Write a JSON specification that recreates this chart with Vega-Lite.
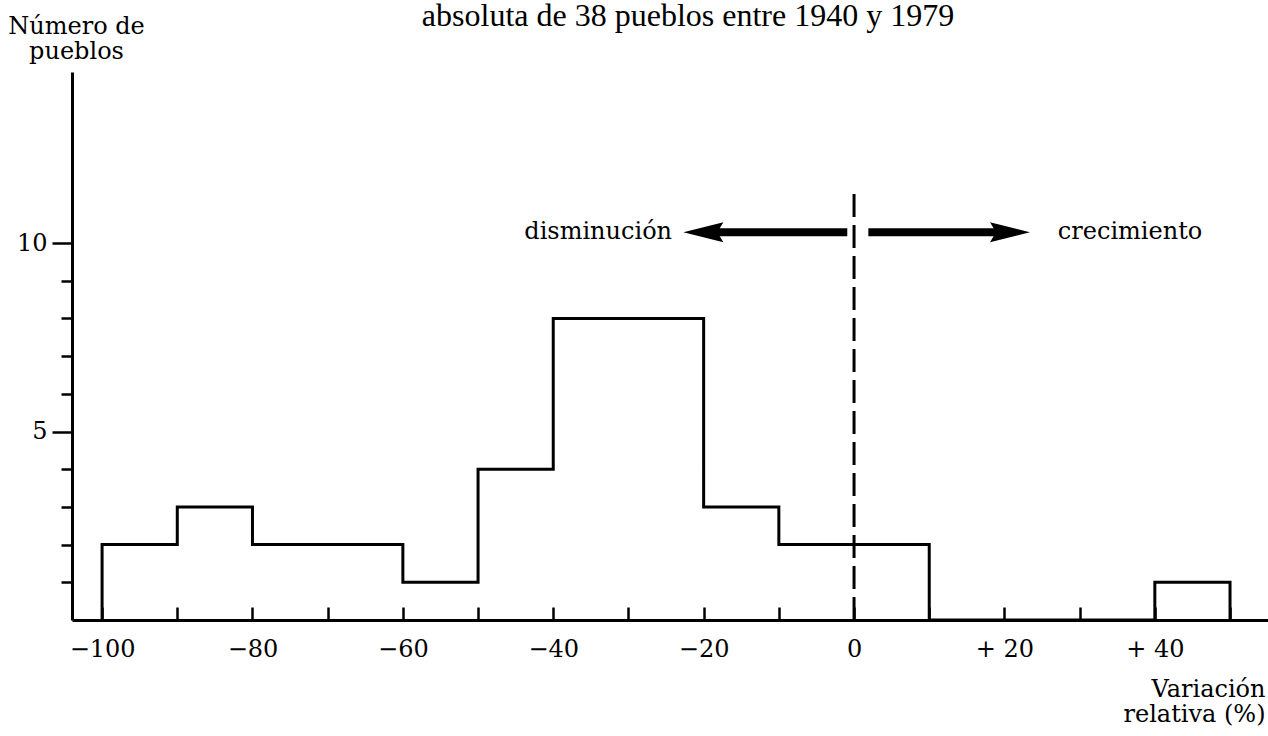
{
  "$schema": "https://vega.github.io/schema/vega-lite/v6.json",
  "width": 1196,
  "height": 548,
  "autosize": {"type": "none"},
  "padding": {"left": 72, "top": 72, "right": 0, "bottom": 116},
  "background": "white",
  "title": {
    "text": "absoluta de 38 pueblos entre 1940 y 1979",
    "font": "Liberation Serif",
    "fontSize": 32,
    "fontWeight": "normal",
    "color": "black",
    "frame": "group",
    "anchor": "middle",
    "baseline": "alphabetic",
    "offset": -44,
    "dx": 18
  },
  "config": {
    "view": {"stroke": null},
    "axis": {
      "grid": false,
      "domainColor": "black",
      "domainWidth": 3,
      "tickColor": "black",
      "tickWidth": 2.5,
      "labelColor": "black",
      "labelFont": "DejaVu Serif",
      "labelFontSize": 24,
      "titleColor": "black",
      "titleFont": "DejaVu Serif",
      "titleFontSize": 24,
      "titleFontWeight": "normal"
    }
  },
  "layer": [
    {
      "data": {
        "values": [
          {"i": 0, "x": -100, "y": 0},
          {"i": 1, "x": -100, "y": 2},
          {"i": 2, "x": -90, "y": 3},
          {"i": 3, "x": -80, "y": 2},
          {"i": 4, "x": -70, "y": 2},
          {"i": 5, "x": -60, "y": 1},
          {"i": 6, "x": -50, "y": 4},
          {"i": 7, "x": -40, "y": 8},
          {"i": 8, "x": -30, "y": 8},
          {"i": 9, "x": -20, "y": 3},
          {"i": 10, "x": -10, "y": 2},
          {"i": 11, "x": 0, "y": 2},
          {"i": 12, "x": 10, "y": 0},
          {"i": 13, "x": 20, "y": 0},
          {"i": 14, "x": 30, "y": 0},
          {"i": 15, "x": 40, "y": 1},
          {"i": 16, "x": 50, "y": 0}
        ]
      },
      "mark": {"type": "line", "interpolate": "step-after", "color": "black", "strokeWidth": 3, "strokeJoin": "miter"},
      "encoding": {
        "x": {
          "field": "x",
          "type": "quantitative",
          "scale": {"domain": [-104, 55.05], "nice": false, "zero": false},
          "axis": {
            "values": [-100, -90, -80, -70, -60, -50, -40, -30, -20, -10, 0, 10, 20, 30, 40, 50],
            "tickSize": -13,
            "labelPadding": 30,
            "labelBaseline": "top",
            "labelFlush": false,
            "labelOverlap": false,
            "labelExpr": "datum.value === 0 ? '0' : (datum.value % 20 !== 0 ? '' : (datum.value > 0 ? '+ ' + datum.value : '\u2212' + (-datum.value)))",
            "title": ["Variación", "relativa (%)"],
            "titleAlign": "right",
            "titleAnchor": "end",
            "titleBaseline": "top",
            "titleLineHeight": 25,
            "titleX": 1193,
            "titleY": 57
          }
        },
        "y": {
          "field": "y",
          "type": "quantitative",
          "scale": {"domain": [0, 14.54], "nice": false},
          "axis": {
            "values": [1, 2, 3, 4, 5, 6, 7, 8, 9, 10],
            "tickSize": {"condition": {"test": "datum.value % 5 === 0", "value": 20}, "value": 11},
            "labelPadding": 5,
            "labelFlush": false,
            "labelOverlap": false,
            "labelExpr": "datum.value % 5 === 0 ? datum.label : ''",
            "title": ["Número de", "pueblos"],
            "titleAngle": 0,
            "titleAlign": "center",
            "titleBaseline": "alphabetic",
            "titleLineHeight": 25,
            "titleX": 4,
            "titleY": -39
          }
        },
        "order": {"field": "i"}
      }
    },
    {
      "data": {"values": [{"x": 0, "y": 0, "y2": 11.4}]},
      "mark": {"type": "rule", "color": "black", "strokeWidth": 3, "strokeDash": [23, 8]},
      "encoding": {
        "x": {"field": "x", "type": "quantitative"},
        "y": {"field": "y", "type": "quantitative"},
        "y2": {"field": "y2"}
      }
    },
    {
      "data": {"values": [{"x": -0.9, "x2": -20.0, "y": 10.29}, {"x": 1.9, "x2": 20.7, "y": 10.29}]},
      "mark": {"type": "rule", "color": "black", "strokeWidth": 8},
      "encoding": {
        "x": {"field": "x", "type": "quantitative"},
        "x2": {"field": "x2"},
        "y": {"field": "y", "type": "quantitative"}
      }
    },
    {
      "data": {"values": [{"x": -20.04, "y": 10.29}]},
      "mark": {"type": "point", "shape": "M-1,0L1,-0.5L0.7,0L1,0.5Z", "size": 1600, "filled": true, "color": "black", "opacity": 1, "strokeWidth": 0},
      "encoding": {
        "x": {"field": "x", "type": "quantitative"},
        "y": {"field": "y", "type": "quantitative"}
      }
    },
    {
      "data": {"values": [{"x": 20.74, "y": 10.29}]},
      "mark": {"type": "point", "shape": "M1,0L-1,-0.5L-0.7,0L-1,0.5Z", "size": 1600, "filled": true, "color": "black", "opacity": 1, "strokeWidth": 0},
      "encoding": {
        "x": {"field": "x", "type": "quantitative"},
        "y": {"field": "y", "type": "quantitative"}
      }
    },
    {
      "data": {"values": [{"x": -24.2, "y": 10.29, "label": "disminución"}]},
      "mark": {"type": "text", "align": "right", "baseline": "middle", "font": "DejaVu Serif", "fontSize": 24, "color": "black"},
      "encoding": {
        "x": {"field": "x", "type": "quantitative"},
        "y": {"field": "y", "type": "quantitative"},
        "text": {"field": "label"}
      }
    },
    {
      "data": {"values": [{"x": 27.1, "y": 10.29, "label": "crecimiento"}]},
      "mark": {"type": "text", "align": "left", "baseline": "middle", "font": "DejaVu Serif", "fontSize": 24, "color": "black"},
      "encoding": {
        "x": {"field": "x", "type": "quantitative"},
        "y": {"field": "y", "type": "quantitative"},
        "text": {"field": "label"}
      }
    }
  ]
}
